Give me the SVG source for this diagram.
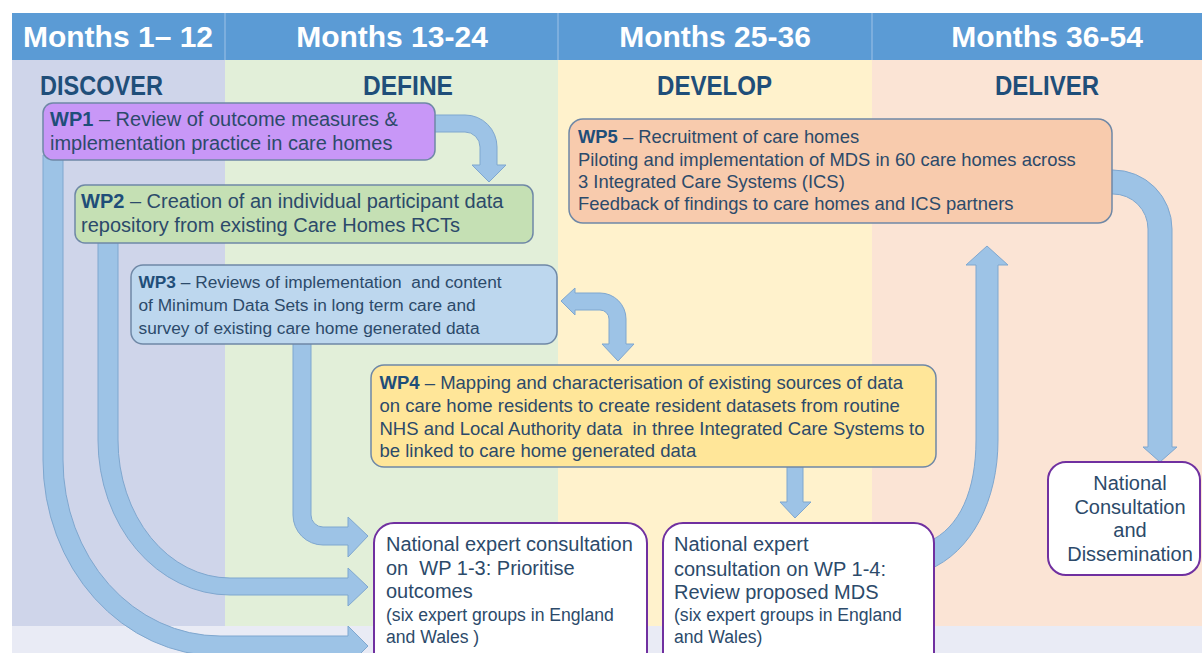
<svg xmlns="http://www.w3.org/2000/svg" width="1202" height="653" viewBox="0 0 1202 653">
<defs>
<style>
.hdr{font-family:"Liberation Sans",Arial,sans-serif;font-weight:bold;font-size:30px;fill:#ffffff;text-anchor:middle}
.phase{font-family:"Liberation Sans",Arial,sans-serif;font-weight:bold;font-size:27px;fill:#1f4e79;text-anchor:middle}
.wp{stroke:#6f88a6;stroke-width:1.5}
.t{font-family:"Liberation Sans",Arial,sans-serif;fill:#2c4a6a;white-space:pre}
.b{font-weight:bold;fill:#1f4e79}
.cons{fill:#ffffff;stroke:#7030a0;stroke-width:2}
.arr{fill:#9dc3e6;stroke:#7fa7cf;stroke-width:1}
</style>
</defs>
<rect width="1202" height="653" fill="#ffffff"/>
<g id="background">
<rect x="12" y="60" width="213" height="566" fill="#cfd5ea"/>
<rect x="225" y="60" width="333" height="566" fill="#e2efd9"/>
<rect x="558" y="60" width="314" height="566" fill="#fff2cc"/>
<rect x="872" y="60" width="330" height="566" fill="#fbe4d5"/>
<rect x="12" y="626" width="1190" height="27" fill="#e9ebf5"/>
<rect x="12" y="13" width="1190" height="47" fill="#5b9bd5"/>
<g stroke="#9fc2e7" stroke-width="1">
<line x1="225" y1="13" x2="225" y2="60"/>
<line x1="558" y1="13" x2="558" y2="60"/>
<line x1="872" y1="13" x2="872" y2="60"/>
</g>
<text class="hdr" x="118" y="47">Months 1– 12</text>
<text class="hdr" x="392" y="47">Months 13-24</text>
<text class="hdr" x="715" y="47">Months 25-36</text>
<text class="hdr" x="1047" y="47">Months 36-54</text>
<text class="phase" x="101.5" y="95" textLength="123" lengthAdjust="spacingAndGlyphs">DISCOVER</text>
<text class="phase" x="408" y="95" textLength="90" lengthAdjust="spacingAndGlyphs">DEFINE</text>
<text class="phase" x="714.5" y="95" textLength="115" lengthAdjust="spacingAndGlyphs">DEVELOP</text>
<text class="phase" x="1047" y="95" textLength="104" lengthAdjust="spacingAndGlyphs">DELIVER</text>
</g>
<g id="connectors">
<path class="arr" d="M430,115 H465 A32,32 0 0 1 497,147 V165 H506 L489,182 L472,165 H480 V147 A15,15 0 0 0 465,132 H430 Z"/>
<path class="arr" d="M561,301 L575,288 V293 H600 A26,26 0 0 1 626,319 V344 H634 L618,361 L602,344 H609 V319 A9,9 0 0 0 600,310 H575 V315 Z"/>
<path class="arr" d="M1105,170 H1113 A59,59 0 0 1 1172,229 V447 H1177 L1160,462 L1143,447 H1148 V229 A35,35 0 0 0 1113,194 H1105 Z"/>
<path class="arr" d="M928,570 C972,552 998,500 998,440 V265 H1008 L987,246 L966,265 H976 V440 C976,490 960,528 928,542 Z"/>
<path class="arr" d="M787,460 V502 H780 L795,518 L811,502 H803 V460 Z"/>
<path class="arr" d="M293,338 V515 A30,30 0 0 0 323,545 H348 V557 L368,536 L348,517 V527 H323 A12,12 0 0 1 311,515 V338 Z"/>
<path class="arr" d="M98,238 V440 A132,155 0 0 0 230,595 H348 V606 L368,587 L348,568 V578 H230 A112,138 0 0 1 118,440 V238 Z"/>
<path class="arr" d="M43,155 V460 A177,196 0 0 0 220,656 H348 V666 L368,646 L348,626 V636 H220 A157,176 0 0 1 63,460 V155 Z"/>
</g>
<g id="wp1">
<rect class="wp" x="43" y="103" width="392" height="57" rx="10" fill="#c897f7"/>
<text class="t" font-size="20" x="50" y="126"><tspan class="b">WP1</tspan> – Review of outcome measures &amp;</text>
<text class="t" font-size="20" x="50" y="150">implementation practice in care homes</text>
</g>
<g id="wp2">
<rect class="wp" x="75" y="185" width="458" height="58" rx="10" fill="#c5e0b4"/>
<text class="t" font-size="20" x="81" y="208"><tspan class="b">WP2</tspan> – Creation of an individual participant data</text>
<text class="t" font-size="20" x="81" y="232">repository from existing Care Homes RCTs</text>
</g>
<g id="wp3">
<rect class="wp" x="131" y="265" width="426" height="79" rx="12" fill="#bdd7ee"/>
<text class="t" font-size="17.3" x="138.5" y="288"><tspan class="b">WP3</tspan> – Reviews of implementation  and content</text>
<text class="t" font-size="17.3" x="138.5" y="311">of Minimum Data Sets in long term care and</text>
<text class="t" font-size="17.3" x="138.5" y="334">survey of existing care home generated data</text>
</g>
<g id="wp4">
<rect class="wp" x="371" y="365" width="565" height="102" rx="13" fill="#ffe699"/>
<text class="t" font-size="18.5" x="379.5" y="389"><tspan class="b">WP4</tspan> – Mapping and characterisation of existing sources of data</text>
<text class="t" font-size="18.5" x="379.5" y="412">on care home residents to create resident datasets from routine</text>
<text class="t" font-size="18.5" x="379.5" y="435">NHS and Local Authority data  in three Integrated Care Systems to</text>
<text class="t" font-size="18.5" x="379.5" y="457">be linked to care home generated data</text>
</g>
<g id="wp5">
<rect class="wp" x="569" y="119" width="543" height="104" rx="14" fill="#f8cbad"/>
<text class="t" font-size="18.4" x="578" y="143"><tspan class="b">WP5</tspan> – Recruitment of care homes</text>
<text class="t" font-size="18.4" x="578" y="166">Piloting and implementation of MDS in 60 care homes across</text>
<text class="t" font-size="18.4" x="578" y="188">3 Integrated Care Systems (ICS)</text>
<text class="t" font-size="18.4" x="578" y="210">Feedback of findings to care homes and ICS partners</text>
</g>
<g id="consult1">
<rect class="cons" x="374" y="523" width="273" height="150" rx="20"/>
<text class="t" font-size="20" x="386" y="551">National expert consultation</text>
<text class="t" font-size="20" x="386" y="575">on  WP 1-3: Prioritise</text>
<text class="t" font-size="20" x="386" y="598">outcomes</text>
<text class="t" font-size="17.6" x="386" y="621">(six expert groups in England</text>
<text class="t" font-size="17.6" x="386" y="643">and Wales )</text>
</g>
<g id="consult2">
<rect class="cons" x="663" y="523" width="271" height="150" rx="20"/>
<text class="t" font-size="20" x="674" y="551">National expert</text>
<text class="t" font-size="20" x="674" y="576">consultation on WP 1-4:</text>
<text class="t" font-size="20" x="674" y="599">Review proposed MDS</text>
<text class="t" font-size="17.6" x="674" y="621">(six expert groups in England</text>
<text class="t" font-size="17.6" x="674" y="643">and Wales)</text>
</g>
<g id="consult3">
<rect class="cons" x="1048" y="462" width="152" height="113" rx="18"/>
<text class="t" font-size="20" x="1130" y="490" text-anchor="middle">National</text>
<text class="t" font-size="20" x="1130" y="514" text-anchor="middle">Consultation</text>
<text class="t" font-size="20" x="1130" y="537" text-anchor="middle">and</text>
<text class="t" font-size="20" x="1130" y="561" text-anchor="middle">Dissemination</text>
</g>
</svg>
